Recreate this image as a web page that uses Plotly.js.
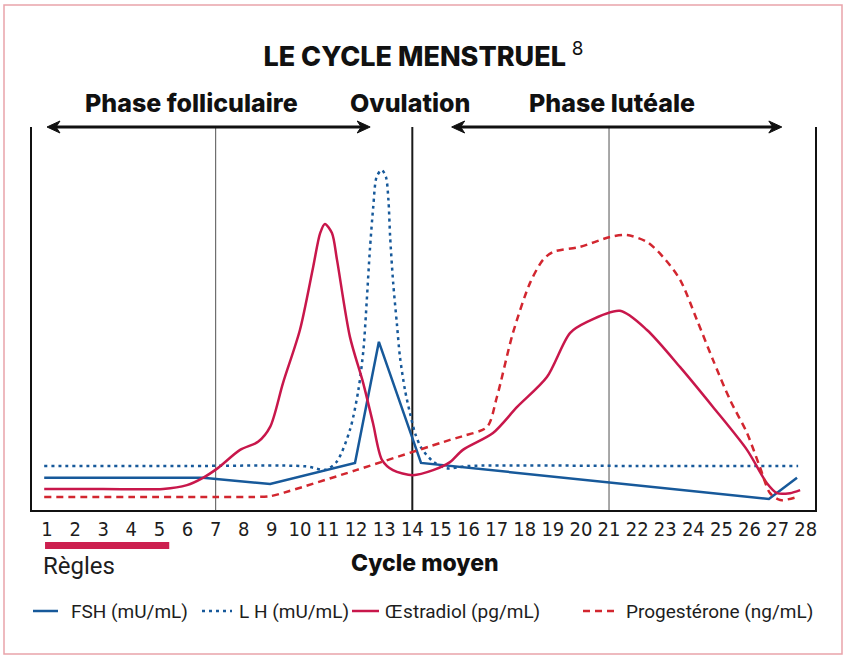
<!DOCTYPE html>
<html><head><meta charset="utf-8">
<script src="https://cdn.plot.ly/plotly-3.0.1.min.js"></script>
<style>body{margin:0;background:#fff}#chart{width:847px;height:659px}</style>
</head><body><div id="chart"></div><script>
// ---- data (cycle day, relative level) ----
const tickDays = [1,2,3,4,5,6,7,8,9,10,11,12,13,14,15,16,17,18,19,20,21,22,23,24,25,26,27,28];
const phaseLineDays = [7, 14, 21];
const phaseLabels = ['Phase folliculaire', 'Ovulation', 'Phase lutéale'];
const phaseArrows = [[1, 12.5], [15.4, 27.15]];
const reglesSpan = [0.93, 5.35];

const fshDay = [0.9, 6.55, 8.94, 11.96, 12.81, 14.31, 26.69, 27.69];
const fshVal = [8.4, 8.4, 6.8, 12.3, 43.9, 12.3, 2.9, 8.4];

const lhDay = [0.9, 6.0, 10.2, 10.9, 11.31, 11.78, 12.08, 12.26, 12.38, 12.49, 12.61, 12.73, 12.91, 13.06, 13.15, 13.21, 13.32, 13.45, 13.56, 13.74, 13.92, 14.10, 14.33, 14.75, 15.22, 16.0, 22.0, 27.73];
const lhVal = [11.5, 11.5, 11.4, 10.5, 12.6, 20.9, 31.3, 41.8, 54.8, 67.9, 79.2, 87.0, 88.8, 87.0, 80.9, 71.4, 59.2, 48.7, 40.0, 31.3, 25.2, 20.0, 16.1, 12.6, 10.9, 11.5, 11.5, 11.5];

const esDay = [0.9, 3.0, 5.13, 5.98, 6.55, 7.09, 7.87, 8.51, 8.94, 9.40, 10.0, 10.47, 10.72, 10.89, 11.14, 11.32, 11.78, 12.25, 12.60, 12.92, 13.31, 14.02, 14.74, 15.34, 15.80, 16.87, 17.73, 18.79, 19.61, 20.22, 21.39, 22.35, 23.53, 24.70, 25.91, 26.62, 26.98, 27.44, 27.80];
const esVal = [5.5, 5.5, 5.5, 6.5, 8.4, 11.0, 15.7, 17.8, 21.7, 33.2, 47.0, 63.4, 72.3, 74.7, 72.3, 65.3, 45.2, 33.2, 22.7, 13.1, 10.4, 9.1, 10.4, 12.5, 15.7, 20.1, 26.9, 34.7, 46.2, 49.1, 52.0, 47.0, 37.3, 26.9, 15.7, 7.0, 4.4, 4.4, 5.2];

const pgDay = [0.9, 4.0, 7.0, 8.3, 8.94, 9.6, 12.0, 15.34, 15.80, 16.66, 17.01, 17.58, 18.19, 18.65, 19.01, 19.97, 21.04, 21.64, 22.35, 22.92, 23.53, 24.13, 24.70, 25.31, 25.91, 26.37, 26.73, 27.09, 27.69];
const pgVal = [3.4, 3.4, 3.4, 3.4, 3.6, 4.9, 10.4, 18.3, 19.3, 21.7, 29.5, 46.2, 59.3, 65.3, 67.4, 68.7, 71.3, 71.8, 70.0, 66.1, 60.1, 49.6, 39.2, 28.7, 20.1, 11.2, 4.4, 2.6, 3.4];

const seriesNames = ['FSH (mU/mL)', 'L H (mU/mL)', 'Œstradiol (pg/mL)', 'Progestérone (ng/mL)'];

// ---- styling ----
const BLUE = '#17599a', CRIMSON = '#c8174b', RED = '#d2262f';
const TXT = '#1d1d1d';
const NARROW = '"Liberation Sans Narrow", "Arial Narrow", "DejaVu Sans Condensed", sans-serif';
const BOLD = 'Inter, Roboto, sans-serif';
const REG = 'Roboto, "Noto Sans", sans-serif';
const PL = 32, PR = 815, PT = 127, PB = 510;
const DAYPX = (PR - PL) / (28.33 - 0.466);
const px = x => (x - PL) / (PR - PL);
const py = y => (PB - y) / (PB - PT);

const styles = [
  {color: BLUE, width: 2.5, dash: 'solid'},
  {color: BLUE, width: 2.5, dash: '3px,4px'},
  {color: CRIMSON, width: 2.5, dash: 'solid'},
  {color: RED, width: 2.5, dash: '7px,5px'}
];
const xs = [fshDay, lhDay, esDay, pgDay];
const ys = [fshVal, lhVal, esVal, pgVal];
const traces = xs.map((x, i) => ({
  x: x, y: ys[i], mode: 'lines', name: seriesNames[i], hoverinfo: 'skip',
  line: Object.assign({}, styles[i], i === 0 ? {shape: 'linear'} : {shape: 'spline', smoothing: 0.8})
}));

const shapes = [];
phaseLineDays.forEach(d => shapes.push({
  type: 'line', xref: 'x', yref: 'paper', x0: d, x1: d, y0: 0, y1: 1, layer: 'below',
  line: {color: d === 14 ? '#1a1a1a' : '#6e6e6e', width: d === 14 ? 2 : 1.2}
}));
shapes.push({type: 'rect', xref: 'x', yref: 'paper', x0: reglesSpan[0], x1: reglesSpan[1],
  y0: py(549), y1: py(542), fillcolor: '#cc1f4f', line: {width: 0}});
shapes.push({type: 'rect', xref: 'paper', yref: 'paper', x0: px(4), x1: px(842), y0: py(654), y1: py(5),
  line: {color: '#e9a4ab', width: 1.5}, fillcolor: 'rgba(0,0,0,0)'});

// double arrows along the top edge
const HL = 13 / DAYPX, HB = 9 / DAYPX, HH = 6 / (PB - PT);
phaseArrows.forEach(a => {
  const y = 1;
  shapes.push({type: 'line', xref: 'x', yref: 'paper', x0: a[0] + 4 / DAYPX, x1: a[1] - 4 / DAYPX, y0: y, y1: y,
    line: {color: '#111', width: 3}});
  const head = (tip, dir) => `M${tip},${y} L${tip - dir * HL},${y + HH} L${tip - dir * HB},${y} L${tip - dir * HL},${y - HH} Z`;
  [[a[1], 1], [a[0], -1]].forEach(h => shapes.push({type: 'path', xref: 'x', yref: 'paper', path: head(h[0], h[1]),
    fillcolor: '#111', line: {color: '#111', width: 1}}));
});

// custom legend
const legSample = [[33, 58], [202, 232], [352, 379], [583, 618]];
const legText = [69, 237, 383, 624];
const annotations = [];
legSample.forEach((s, i) => {
  shapes.push({type: 'line', xref: 'paper', yref: 'paper', x0: px(s[0]), x1: px(s[1]), y0: py(611), y1: py(611),
    line: {color: styles[i].color, width: 2.5, dash: styles[i].dash}});
  annotations.push({xref: 'paper', yref: 'paper', x: px(legText[i]), y: py(611), xanchor: 'left', yanchor: 'middle',
    showarrow: false, text: seriesNames[i], font: {family: REG, size: 19, color: TXT}});
});

// phase labels
const phaseX = [191, 410, 612];
phaseLabels.forEach((t, i) => annotations.push({xref: 'paper', yref: 'paper', x: px(phaseX[i]), y: py(103),
  xanchor: 'center', yanchor: 'middle', showarrow: false, text: t,
  font: {family: BOLD, size: 25, weight: 800, color: '#111'}}));

annotations.push({xref: 'paper', yref: 'paper', x: px(41), y: py(566), xanchor: 'left', yanchor: 'middle',
  showarrow: false, text: 'Règles', font: {family: REG, size: 24, color: TXT}});
annotations.push({xref: 'paper', yref: 'paper', x: px(425), y: py(563), xanchor: 'center', yanchor: 'middle',
  showarrow: false, text: 'Cycle moyen', font: {family: BOLD, size: 23, weight: 800, color: '#111'}});

const layout = {
  width: 847, height: 659,
  margin: {l: PL, r: 847 - PR, t: PT, b: 659 - PB},
  paper_bgcolor: '#fff', plot_bgcolor: '#fff', showlegend: false,
  title: {text: 'LE CYCLE MENSTRUEL <sup><span style="font-weight:400">8</span></sup>',
    x: 0.5, xanchor: 'center', xref: 'container', y: 1 - 57 / 659, yanchor: 'middle', yref: 'container',
    font: {family: BOLD, size: 27, weight: 800, color: '#111'}},
  xaxis: {range: [0.466, 28.33], tickvals: tickDays, ticktext: tickDays.map(String), ticks: '',
    tickfont: {family: NARROW, size: 20, color: TXT}, showgrid: false, zeroline: false,
    showline: true, linecolor: '#111', linewidth: 2, fixedrange: true},
  yaxis: {range: [0, 100], showticklabels: false, ticks: '', showgrid: false, zeroline: false,
    showline: true, mirror: true, linecolor: '#111', linewidth: 2, fixedrange: true},
  shapes: shapes, annotations: annotations
};
Plotly.newPlot('chart', traces, layout, {staticPlot: true, displayModeBar: false});
</script></body></html>
